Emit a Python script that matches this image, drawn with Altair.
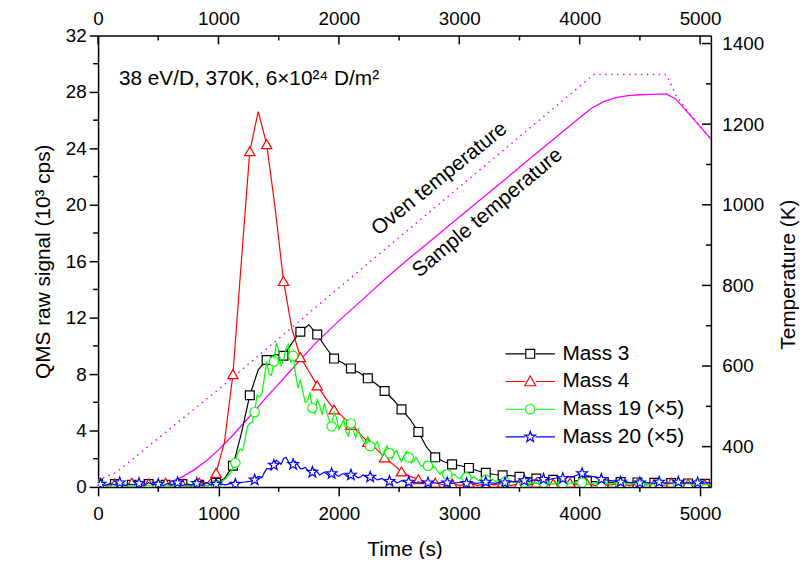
import altair as alt
import pandas as pd

FONT = "Liberation Sans"
W, H = 619, 456

# ---------------- data ----------------
t_a = list(range(0, 5111, 70))    # Mass 3 / Mass 4 sampling (s)
t_b = list(range(20, 5101, 40))   # Mass 19 / Mass 20 sampling (s)

mass3 = [0.25, 0.10, 0.20, 0.05, 0.15, 0.10, 0.20, 0.05, 0.15, 0.10, 0.20, 0.05, 0.15, 0.10,
         0.30, 0.60, 1.50, 3.80, 6.50, 8.30, 9.00, 9.40, 9.30, 10.20, 11.00, 11.50, 10.80, 9.90, 9.10, 8.80,
         8.40, 8.10, 7.70, 7.30, 6.80, 6.20, 5.50, 4.80, 3.90, 2.80, 2.10, 1.80, 1.60, 1.50, 1.35, 1.15,
         1.00, 0.88, 0.82, 0.80, 0.72, 0.66, 0.60, 0.53, 0.50, 0.46, 0.42, 0.45, 0.40, 0.38, 0.35, 0.33,
         0.35, 0.30, 0.32, 0.28, 0.30, 0.25, 0.28, 0.22, 0.25, 0.20, 0.22, 0.20]
mass4 = [0.20, 0.10, 0.25, 0.05, 0.30, 0.10, 0.25, 0.05, 0.30, 0.10, 0.20, 0.05, 0.30, 0.30,
         1.00, 3.20, 8.00, 16.00, 23.80, 26.60, 24.30, 19.80, 14.60, 11.20, 9.20, 8.20, 7.20, 6.30, 5.50, 5.00,
         4.40, 3.80, 3.20, 2.70, 2.10, 1.60, 1.10, 0.75, 0.55, 0.35, 0.30, 0.15, 0.25, 0.10, 0.30, 0.10,
         0.25, 0.15, 0.30, 0.10, 0.25, 0.10, 0.30, 0.15, 0.25, 0.10, 0.30, 0.15, 0.25, 0.10, 0.20, 0.15,
         0.30, 0.10, 0.25, 0.15, 0.20, 0.10, 0.30, 0.15, 0.25, 0.10, 0.20, 0.10]
mass19 = [0.10, 0.05, 0.10, 0.00, 0.10, 0.05, 0.10, 0.00, 0.10, 0.05, 0.10, 0.05, 0.10, 0.00, 0.10, 0.05,
          0.10, 0.00, 0.10, 0.05, 0.10, 0.05, 0.10, 0.10, 0.15,
          0.30, 0.60, 1.00, 1.70, 2.70, 3.30, 4.50, 5.30, 6.40, 7.70, 8.00, 8.90, 9.70, 9.00, 10.10, 9.30,
          7.00, 6.80, 6.10, 5.60,
          6.20, 5.10, 5.30, 4.30, 4.90, 4.40, 3.90, 4.50, 3.50, 3.60, 3.10, 2.90, 3.00, 2.60, 2.60, 2.40,
          2.40, 2.10, 2.20, 2.10,
          1.80, 1.80, 1.50, 1.50, 1.40, 1.10, 1.10, 0.90, 0.85, 0.70, 0.75, 0.68, 0.60, 0.60, 0.50, 0.50,
          0.45, 0.40, 0.45, 0.35,
          0.40, 0.30, 0.35, 0.30, 0.25, 0.30, 0.20, 0.30, 0.25, 0.20, 0.30, 0.25, 0.20, 0.30, 0.25, 0.30,
          0.20, 0.25, 0.30, 0.20, 0.25, 0.20, 0.30, 0.20, 0.25, 0.20, 0.30, 0.20, 0.25, 0.15, 0.25, 0.20,
          0.15, 0.25, 0.20, 0.15, 0.20, 0.25, 0.15, 0.20, 0.15, 0.20, 0.15]
# extra in-between readings of the noisy Mass 19 trace (t = 1160 ... 3280, every 40 s)
t_b_mid19 = list(range(1160, 3281, 40))
mass19_mid = [2.4, 2.6, 4.3, 4.6, 6.5, 6.6, 8.9, 7.9, 10.2, 8.6, 9.8, 8.8, 8.0, 7.6, 6.0, 6.7,
              5.2, 5.8, 5.9, 4.7, 5.3, 4.1, 4.8, 3.6, 4.0, 4.1, 3.3, 3.5, 2.6, 3.2, 2.2, 2.9,
              2.0, 2.6, 1.8, 2.5, 1.7, 2.1, 1.5, 1.8, 1.2, 1.4, 0.9, 1.2, 0.7, 0.9, 0.6, 0.85,
              0.55, 0.75, 0.45, 0.65, 0.4, 0.55]
mass20 = [0.20, 0.10, 0.25, 0.15, 0.30, 0.10, 0.20, 0.15, 0.25, 0.10, 0.30, 0.15, 0.20, 0.10, 0.25, 0.15,
          0.30, 0.10, 0.20, 0.15, 0.25, 0.10, 0.30, 0.15, 0.20,
          0.20, 0.15, 0.25, 0.20, 0.30, 0.35, 0.40, 0.50, 0.75, 1.00, 1.30, 1.55, 1.75, 2.00, 1.80, 1.60,
          1.55, 1.30, 1.20, 1.05,
          1.05, 0.95, 0.90, 0.95, 0.85, 0.90, 0.80, 0.85, 0.75, 0.70, 0.75, 0.70, 0.60, 0.55, 0.45, 0.40,
          0.45, 0.35, 0.40, 0.35,
          0.30, 0.35, 0.30, 0.30, 0.30, 0.25, 0.35, 0.30, 0.25, 0.30, 0.35, 0.25, 0.30, 0.25, 0.30, 0.35,
          0.30, 0.25, 0.35, 0.30,
          0.35, 0.40, 0.35, 0.45, 0.40, 0.50, 0.45, 0.55, 0.50, 0.60, 0.65, 0.60, 0.75, 0.70, 0.85, 0.95,
          0.80, 0.75, 0.70, 0.55, 0.50, 0.45, 0.40, 0.35, 0.40, 0.30, 0.35, 0.30, 0.35, 0.30, 0.25, 0.35,
          0.30, 0.25, 0.30, 0.35, 0.25, 0.30, 0.25, 0.30, 0.25, 0.30, 0.25]
# extra in-between readings of the noisy Mass 20 trace (t = 1320 ... 2600, every 40 s)
t_b_mid20 = list(range(1320, 2601, 40))
mass20_mid = [0.7, 0.65, 1.3, 1.2, 1.9, 1.6, 2.1, 1.5, 1.8, 1.3, 1.4, 1.0, 1.25, 0.85, 1.05, 0.8,
              1.0, 0.75, 0.95, 0.7, 0.9, 0.65, 0.85, 0.6, 0.75, 0.5, 0.6, 0.35, 0.5, 0.3, 0.45, 0.3, 0.4]

sample_t = [400, 500, 600, 700, 800, 900, 1000, 1100, 1200, 1300, 1400, 1600, 1800, 2000, 2200, 2400,
            2600, 2800, 3000, 3200, 3400, 3600, 3800, 4000, 4100, 4200, 4300, 4400, 4500, 4600, 4720,
            4800, 4900, 5000, 5100]
sample_T = [300, 304, 312, 325, 343, 365, 392, 422, 455, 489, 523, 589, 655, 712, 766, 820,
            871, 920, 970, 1019, 1068, 1118, 1167, 1216, 1240, 1256, 1266, 1271, 1273, 1274, 1275,
            1262, 1228, 1194, 1160]
oven_t = [40, 150, 1000, 2000, 3000, 4117, 4720, 4800, 4900, 5000, 5100]
oven_T = [322, 336, 542, 794, 1044, 1323, 1323, 1272, 1230, 1195, 1160]

names = ["Mass 3", "Mass 4", "Mass 19 (\u00d75)", "Mass 20 (\u00d75)"]
colors = ["#000000", "#ff0000", "#00ff00", "#0000ff"]
marker_every = [2, 2, 4, 4]

anno_text = ["38 eV/D, 370K, 6\u00d710\u00b2\u2074 D/m\u00b2"]
anno_t = [173]
anno_v = [28.5]

temp_label_text = ["Oven temperature", "Sample temperature"]
temp_label_t = [2836, 3235]
temp_label_T = [1064, 980]
temp_label_angle = [321, 320]

x_major = [0, 1000, 2000, 3000, 4000, 5000]
x_minor = [500, 1500, 2500, 3500, 4500]
y_major = [0, 4, 8, 12, 16, 20, 24, 28, 32]
y_minor = [2, 6, 10, 14, 18, 22, 26, 30]
T_major = [400, 600, 800, 1000, 1200, 1400]
T_minor = [500, 700, 900, 1100, 1300]

# ---------------- styles ----------------
STAR = ("M0,-1L0.235,-0.324L0.951,-0.309L0.38,0.124L0.588,0.809L0,0.4L-0.588,0.809"
        "L-0.38,0.124L-0.951,-0.309L-0.235,-0.324Z")
STAR_L = ("M0,-1.15L0.27,-0.37L1.09,-0.36L0.44,0.14L0.68,0.93L0,0.46L-0.68,0.93"
          "L-0.44,0.14L-1.09,-0.36L-0.27,-0.37Z")
LINE_L = "M-5,0H-1.1M1.1,0H5"
marker_shapes = ["square", "triangle-up", "circle", STAR]
marker_sizes = [80, 110, 90, 130]
legend_paths = [
    LINE_L + "M-0.9,-0.9H0.9V0.9H-0.9Z",
    LINE_L + "M0,-1.1L1.1,0.85H-1.1Z",
    LINE_L + "M0.95,0A0.95,0.95,0,1,1,-0.95,0A0.95,0.95,0,1,1,0.95,0Z",
    LINE_L + STAR_L,
]

x_scale = alt.Scale(domain=[0, 5090], nice=False, zero=False)
y_scale = alt.Scale(domain=[0, 32], nice=False, zero=False)
T_scale = alt.Scale(domain=[300, 1420], nice=False, zero=False)

ax = dict(domainColor="black", domainWidth=1.5, tickColor="black", tickWidth=1.5,
          labelColor="black", titleColor="black", labelFont=FONT, titleFont=FONT,
          labelFontSize=19, titleFontSize=21, titleFontWeight="normal", grid=False,
          labelFlush=False, format="d")
left_axis = alt.Axis(orient="left", values=y_major, tickSize=9, labelPadding=3,
                     title="QMS raw signal (10\u00b3 cps)", titlePadding=12, **ax)
bottom_axis = alt.Axis(orient="bottom", values=x_major, tickSize=9, labelPadding=9,
                       title="Time (s)", titlePadding=15, **ax)
top_axis = alt.Axis(orient="top", values=x_major, ticks=False, labelPadding=7, title=None, **ax)
right_axis = alt.Axis(orient="right", values=T_major, ticks=False, labelPadding=11,
                      title="Temperature (K)", titleAngle=270, titleBaseline="top",
                      titlePadding=14, titleY=241, **ax)

# ---------------- signal layers (left axis) ----------------
rows = []
series_data = [(t_a, mass3), (t_a, mass4), (t_b, mass19), (t_b, mass20)]
for i, (ts, vs) in enumerate(series_data):
    for k, (t, v) in enumerate(zip(ts, vs)):
        rows.append({"series": names[i], "t": t, "v": v, "m": int(k % marker_every[i] == 0)})
for t, v in zip(t_b_mid19, mass19_mid):
    rows.append({"series": names[2], "t": t, "v": v, "m": 0})
for t, v in zip(t_b_mid20, mass20_mid):
    rows.append({"series": names[3], "t": t, "v": v, "m": 0})
df = pd.DataFrame(rows).sort_values(["series", "t"])

layers = []
for i, name in enumerate(names):
    sub = df[df.series == name]
    first = i == 0
    line = alt.Chart(sub).mark_line(color=colors[i], strokeWidth=1.2, clip=True).encode(
        x=alt.X("t:Q", scale=x_scale, axis=bottom_axis if first else None),
        y=alt.Y("v:Q", scale=y_scale, axis=left_axis if first else None),
        order="t:Q",
    )
    pts = alt.Chart(sub[sub.m == 1]).mark_point(
        shape=marker_shapes[i], size=marker_sizes[i], color=colors[i], fill="white",
        filled=False, opacity=1, strokeWidth=1.2, clip=True
    ).encode(
        x=alt.X("t:Q", scale=x_scale, axis=None),
        y=alt.Y("v:Q", scale=y_scale, axis=None),
    )
    layers += [line, pts]

# ---------------- temperature layers (right axis) ----------------
oven = alt.Chart(pd.DataFrame({"t": oven_t, "T": oven_T})).mark_line(
    color="#ff00ff", strokeWidth=1.5, strokeDash=[1.5, 4.5], clip=True).encode(
    x=alt.X("t:Q", scale=x_scale, axis=None),
    y=alt.Y("T:Q", scale=T_scale, axis=None), order="t:Q")
sample = alt.Chart(pd.DataFrame({"t": sample_t, "T": sample_T})).mark_line(
    color="#ff00ff", strokeWidth=1.3, clip=True).encode(
    x=alt.X("t:Q", scale=x_scale, axis=top_axis),
    y=alt.Y("T:Q", scale=T_scale, axis=right_axis), order="t:Q")
temp_labels = alt.Chart(pd.DataFrame({"txt": temp_label_text, "t": temp_label_t,
                                      "T": temp_label_T, "ang": temp_label_angle})).mark_text(
    align="center", baseline="middle", font=FONT, fontSize=21, color="black").encode(
    x=alt.X("t:Q", scale=x_scale, axis=None), y=alt.Y("T:Q", scale=T_scale, axis=None),
    text="txt:N", angle=alt.Angle("ang:Q", scale=None))

# ---------------- ticks, annotation, legend ----------------
left_minor = alt.Chart(pd.DataFrame({"v": y_minor})).mark_rule(color="black", strokeWidth=1.5).encode(
    y=alt.Y("v:Q", scale=y_scale, axis=None), x=alt.value(0), x2=alt.value(-5))
bottom_minor = alt.Chart(pd.DataFrame({"t": x_minor})).mark_rule(color="black", strokeWidth=1.5).encode(
    x=alt.X("t:Q", scale=x_scale, axis=None), y=alt.value(H), y2=alt.value(H + 5))
right_major = alt.Chart(pd.DataFrame({"T": T_major})).mark_rule(color="black", strokeWidth=1.5).encode(
    y=alt.Y("T:Q", scale=T_scale, axis=None), x=alt.value(W), x2=alt.value(W - 9))
right_minor = alt.Chart(pd.DataFrame({"T": T_minor})).mark_rule(color="black", strokeWidth=1.5).encode(
    y=alt.Y("T:Q", scale=T_scale, axis=None), x=alt.value(W), x2=alt.value(W - 5))
top_major = alt.Chart(pd.DataFrame({"t": x_major})).mark_rule(color="black", strokeWidth=1.5).encode(
    x=alt.X("t:Q", scale=x_scale, axis=None), y=alt.value(0), y2=alt.value(9))
top_minor = alt.Chart(pd.DataFrame({"t": x_minor})).mark_rule(color="black", strokeWidth=1.5).encode(
    x=alt.X("t:Q", scale=x_scale, axis=None), y=alt.value(0), y2=alt.value(5))

anno = alt.Chart(pd.DataFrame({"txt": anno_text, "t": anno_t, "v": anno_v})).mark_text(
    align="left", baseline="alphabetic", font=FONT, fontSize=21, color="black").encode(
    x=alt.X("t:Q", scale=x_scale, axis=None), y=alt.Y("v:Q", scale=y_scale, axis=None), text="txt:N")

leg = alt.Legend(orient="none", legendX=426, legendY=311, title=None, labelFont=FONT,
                 labelFontSize=21, labelColor="black", symbolSize=100, symbolStrokeWidth=1.2,
                 labelOffset=22, rowPadding=6, padding=0, labelLimit=0)
legend_layer = alt.Chart(pd.DataFrame({"series": names, "show": [0, 0, 0, 0]})).transform_filter(
    "datum.show > 0").mark_point(filled=False, opacity=1).encode(
    color=alt.Color("series:N", scale=alt.Scale(domain=names, range=colors), legend=leg),
    shape=alt.Shape("series:N", scale=alt.Scale(domain=names, range=legend_paths), legend=leg),
)

chart = alt.layer(
    oven, sample, temp_labels, *layers, anno, legend_layer,
    left_minor, bottom_minor, right_major, right_minor, top_major, top_minor,
).resolve_scale(y="independent").resolve_axis(x="independent", y="independent").properties(
    width=W, height=H, padding={"left": 91, "top": 25, "right": 92, "bottom": 70},
    autosize=alt.AutoSizeParams(type="none"), background="white"
).configure_view(stroke=None)

chart.save("out.html", embed_options={"renderer": "svg", "actions": False})
